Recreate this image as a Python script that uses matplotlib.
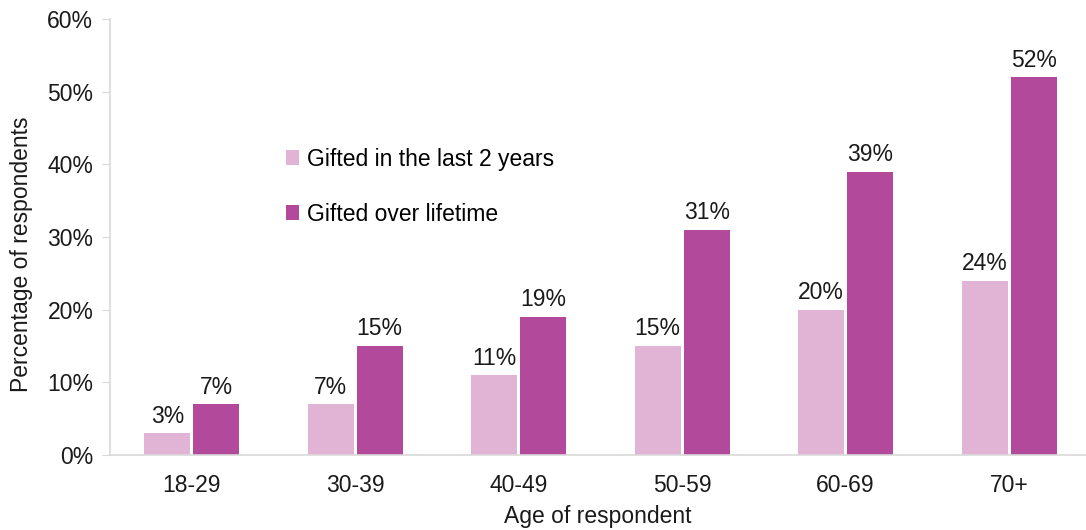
import matplotlib
matplotlib.use("Agg")
import matplotlib.pyplot as plt
import numpy as np

plt.rcParams['font.family'] = ['Liberation Sans', 'DejaVu Sans']

categories = ["18-29", "30-39", "40-49", "50-59", "60-69", "70+"]
last_2_years = [3, 7, 11, 15, 20, 24]
lifetime = [7, 15, 19, 31, 39, 52]
series_names = ["Gifted in the last 2 years", "Gifted over lifetime"]
y_ticks = [0, 10, 20, 30, 40, 50, 60]

light = "#E1B4D6"
dark = "#B2499A"
text_color = "#1a1a1a"
fs = 16.5

fig = plt.figure(figsize=(10.86, 5.30), dpi=100)
ax = fig.add_axes([110 / 1086, 75 / 530, 976 / 1086, 436 / 530])

x = np.arange(len(categories))
w = 0.28
gap = 0.01
b1 = ax.bar(x - w / 2 - gap, last_2_years, w, color=light, label=series_names[0])
b2 = ax.bar(x + w / 2 + gap, lifetime, w, color=dark, label=series_names[1])

for bars, vals in ((b1, last_2_years), (b2, lifetime)):
    for rect, v in zip(bars, vals):
        ax.annotate(f"{v}%", (rect.get_x() + rect.get_width() / 2, v),
                    xytext=(0, 4), textcoords="offset points",
                    ha="center", va="bottom", fontsize=fs, color=text_color)

ax.set_xlim(-0.5, 5.47)
ax.set_ylim(0, 60)
ax.set_yticks(y_ticks)
ax.set_yticklabels([f"{t}%" for t in y_ticks])
ax.set_xticks(x)
ax.set_xticklabels(categories)
ax.tick_params(axis="both", labelsize=fs, colors=text_color)
ax.tick_params(axis="y", length=6, color="#d9d9d9", pad=6)
ax.tick_params(axis="x", length=0, pad=14)

for s in ("top", "right"):
    ax.spines[s].set_visible(False)
for s in ("left", "bottom"):
    ax.spines[s].set_color("#d9d9d9")
    ax.spines[s].set_linewidth(1.2)

ax.set_xlabel("Age of respondent", fontsize=fs, color=text_color)
ax.xaxis.set_label_coords(0.5, -(517 - 455) / 436)
ax.xaxis.label.set_va("center")
ax.set_ylabel("Percentage of respondents", fontsize=fs, color=text_color)
ax.yaxis.set_label_coords(-(110 - 22) / 976, (455 - 254) / 436)
ax.yaxis.label.set_va("center")

leg = ax.legend(loc="upper left", bbox_to_anchor=(155 / 976, 1 - 108 / 436),
                frameon=False, fontsize=fs, handlelength=0.6, handleheight=0.6,
                handletextpad=0.35, labelspacing=1.4)

fig.savefig("out.png", dpi=100)
